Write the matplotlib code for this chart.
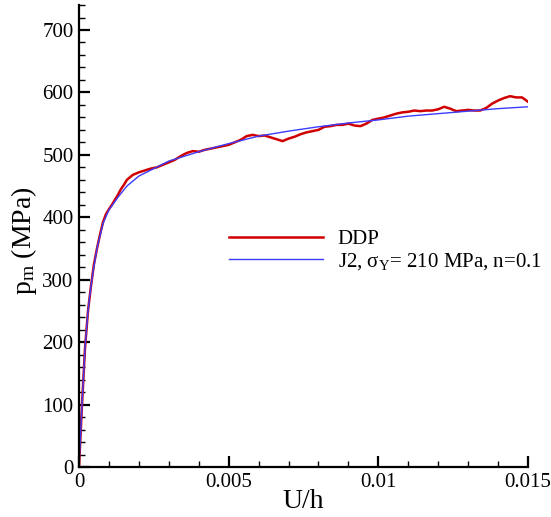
import matplotlib
matplotlib.use("Agg")
import matplotlib.pyplot as plt
from matplotlib.ticker import MultipleLocator

plt.rcParams['font.family'] = ['Liberation Serif', 'DejaVu Serif']
plt.rcParams['mathtext.fontset'] = 'custom'
plt.rcParams['mathtext.rm'] = 'Liberation Serif'
plt.rcParams['mathtext.it'] = 'Liberation Serif:italic'

# DDP result (x in units of 1e-3)
ddp_x = [0, 0.1, 0.2, 0.3, 0.4, 0.5, 0.6, 0.7, 0.8, 0.9, 1.0, 1.1, 1.2, 1.3, 1.4,
         1.5, 1.6, 1.7, 1.8, 1.9, 2.0, 2.2, 2.4, 2.6, 2.8, 3.0, 3.2, 3.4, 3.6, 3.8,
         4.0, 4.2, 4.4, 4.6, 4.8, 5.0, 5.2, 5.4, 5.6, 5.8, 6.0, 6.2, 6.4, 6.6, 6.8,
         7.0, 7.2, 7.4, 7.6, 7.8, 8.0, 8.2, 8.4, 8.6, 8.8, 9.0, 9.2, 9.4, 9.6, 9.8,
         10.0, 10.2, 10.4, 10.6, 10.8, 11.0, 11.2, 11.4, 11.6, 11.8, 12.0, 12.2,
         12.4, 12.6, 12.8, 13.0, 13.2, 13.4, 13.6, 13.8, 14.0, 14.2, 14.4, 14.6,
         14.8, 15.0]
ddp_p = [0, 100, 190, 250, 290, 325, 350, 372, 392, 405, 413, 420, 428, 436, 445,
         452, 460, 464, 468, 470, 472, 475, 478, 480, 484, 488, 492, 498, 503, 506,
         505, 508, 510, 512, 514, 516, 520, 524, 530, 532, 530, 531, 528, 525, 522,
         526, 529, 533, 536, 538, 540, 545, 546, 548, 548, 550, 547, 546, 550, 556,
         558, 560, 563, 566, 568, 569, 571, 570, 571, 571, 573, 577,
         574, 570, 571, 572, 571, 571, 575, 582, 587, 591, 594, 592,
         592, 585]

# J2 plasticity result
j2_x = [0, 0.1, 0.2, 0.3, 0.4, 0.5, 0.6, 0.8, 1.0, 1.3, 1.6, 2.0, 2.5, 3.0, 4.0,
        5.0, 6.0, 7.0, 8.0, 9.0, 10.0, 11.0, 12.0, 13.0, 14.0, 15.0]
j2_p = [0, 100, 190, 250, 290, 322, 350, 390, 412, 432, 450, 466, 478, 490, 505,
        518, 530, 538, 545, 551, 556, 562, 566, 570, 574, 577]

fig = plt.figure(figsize=(5.51, 5.17), dpi=100)
ax = fig.add_axes([0.1434, 0.0967, 0.8149, 0.8936])

ax.plot([v * 1e-3 for v in ddp_x], ddp_p, color='#d00000', lw=1.8, label='DDP')
ax.plot([v * 1e-3 for v in j2_x], j2_p, color='#3c3cff', lw=1.0,
        label='J2, σ$_\\mathrm{Y}$= 210 MPa, n=0.1')

ax.set_xlim(0, 0.015)
ax.set_ylim(0, 740)
ax.set_xticks([0, 0.005, 0.01, 0.015])
ax.set_xticklabels(['0', '0.005', '0.01', '0.015'])
ax.xaxis.set_minor_locator(MultipleLocator(0.001))
ax.set_yticks(range(0, 701, 100))
ax.yaxis.set_minor_locator(MultipleLocator(20))

for s in ['top', 'right']:
    ax.spines[s].set_visible(False)
for s in ['left', 'bottom']:
    ax.spines[s].set_linewidth(1.6)

ax.tick_params(which='major', direction='in', length=8, width=1.6, labelsize=15, pad=4)
ax.tick_params(which='minor', direction='in', length=4.5, width=1.0)
ax.set_xlabel('U/h', fontsize=20, labelpad=-2)
ax.set_ylabel('p$_\\mathrm{m}$ (MPa)', fontsize=20)
ax.yaxis.set_label_coords(-0.09, 0.49)

ax.legend(loc='upper left', bbox_to_anchor=(0.293, 0.555), frameon=False,
          fontsize=15, handlelength=4.5, handletextpad=0.7, labelspacing=0.1)

fig.savefig('out.png', dpi=100)
